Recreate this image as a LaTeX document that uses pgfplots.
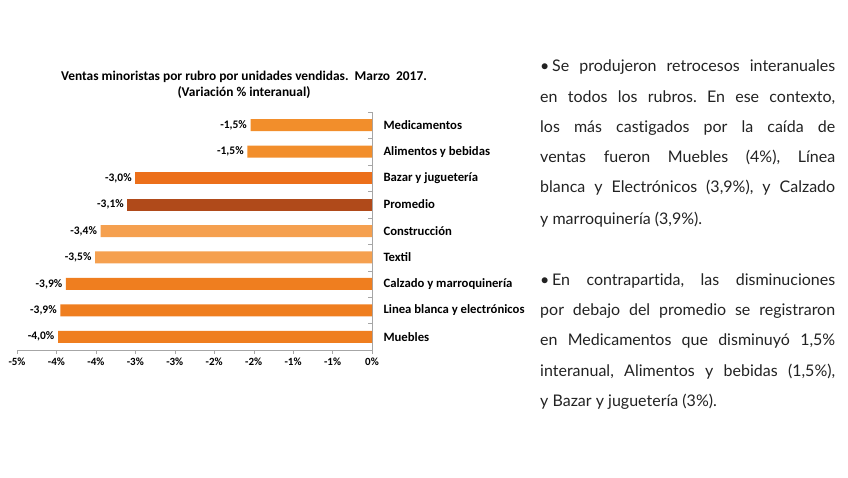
\documentclass[border=0pt]{standalone}
\usepackage{pgfplots}
\pgfplotsset{compat=1.18}
\usepackage{fontspec}
\setmainfont{Carlito}
\newfontfamily\txtfont[Ligatures={NoCommon}]{Lato}
\frenchspacing
\definecolor{cMed}{HTML}{F28E2B}
\definecolor{cBaz}{HTML}{EC6F1A}
\definecolor{cProm}{HTML}{B04A1A}
\definecolor{cCons}{HTML}{F5A04F}
\definecolor{cMue}{HTML}{EF7E1F}
\definecolor{axgray}{HTML}{A6A6A6}
\definecolor{txt}{HTML}{222222}
\newcommand{\tl}[2]{\node[anchor=base west,inner sep=0pt,text=txt] at (540,477-#1) {\txtfont\fontsize{16}{18}\selectfont\frenchspacing\makebox[295pt][s]{#2}};}
\newcommand{\tn}[2]{\node[anchor=base west,inner sep=0pt,text=txt] at (540,477-#1) {\txtfont\fontsize{16}{18}\selectfont\frenchspacing #2};}
\begin{document}
\begin{tikzpicture}[x=1pt,y=1pt]
\path (0,0) rectangle (848,477);
\node[font=\bfseries\fontsize{13.4}{16}\selectfont, align=center] at (244,477-85) {Ventas minoristas por rubro por unidades vendidas.\ \ Marzo\ \ 2017.\\(Variación \% interanual)};
\begin{axis}[
  at={(17pt,127pt)}, anchor=south west, scale only axis,
  width=355pt, height=238pt,
  xmin=-4.5, xmax=0, ymin=-0.5, ymax=8.5,
  axis x line=bottom, axis y line=right,
  axis line style={-, draw=axgray},
  xbar, bar width=12pt, bar shift=0pt,
  xtick={-4.5,-4,-3.5,-3,-2.5,-2,-1.5,-1,-0.5,0},
  xticklabels={-5\%,-4\%,-4\%,-3\%,-3\%,-2\%,-2\%,-1\%,-1\%,0\%},
  xticklabel style={font=\bfseries\fontsize{11}{12}\selectfont},
  xtick align=outside,
  major tick length=4pt, minor tick length=4pt,
  tick style={draw=axgray},
  ytick={0,...,8},
  yticklabels={Muebles, Linea blanca y electrónicos, Calzado y marroquinería, Textil, Construcción, Promedio, Bazar y juguetería, Alimentos y bebidas, Medicamentos},
  yticklabel style={anchor=west, font=\bfseries\fontsize{12.7}{14}\selectfont, xshift=8pt},
  major y tick style={draw=none},
  minor ytick={-0.5,0.5,...,8.5},
  ytick align=inside,
  point meta=explicit symbolic,
  nodes near coords,
  nodes near coords style={anchor=east, font=\bfseries\fontsize{11.5}{12}\selectfont, inner sep=3.5pt, text=black},
  clip=false,
]
\addplot[fill=cMed, draw=none] coordinates {(-1.54,8) [-1,5\%] (-1.58,7) [-1,5\%]};
\addplot[fill=cBaz, draw=none] coordinates {(-3.0,6) [-3,0\%]};
\addplot[fill=cProm, draw=none] coordinates {(-3.1,5) [-3,1\%]};
\addplot[fill=cCons, draw=none] coordinates {(-3.44,4) [-3,4\%] (-3.51,3) [-3,5\%]};
\addplot[fill=cMue, draw=none] coordinates {(-3.88,2) [-3,9\%] (-3.95,1) [-3,9\%] (-3.98,0) [-4,0\%]};
\end{axis}
\tl{72}{•\,Se produjeron retrocesos interanuales}
\tl{103}{en todos los rubros. En ese contexto,}
\tl{133}{los más castigados por la caída de}
\tl{163}{ventas fueron Muebles (4\%), Línea}
\tl{193}{blanca y Electrónicos (3,9\%), y Calzado}
\tn{225}{y marroquinería (3,9\%).}
\tl{285}{•\,En contrapartida, las disminuciones}
\tl{315}{por debajo del promedio se registraron}
\tl{345}{en Medicamentos que disminuyó 1,5\%}
\tl{376}{interanual, Alimentos y bebidas (1,5\%),}
\tn{406}{y Bazar y juguetería (3\%).}
\end{tikzpicture}
\end{document}
